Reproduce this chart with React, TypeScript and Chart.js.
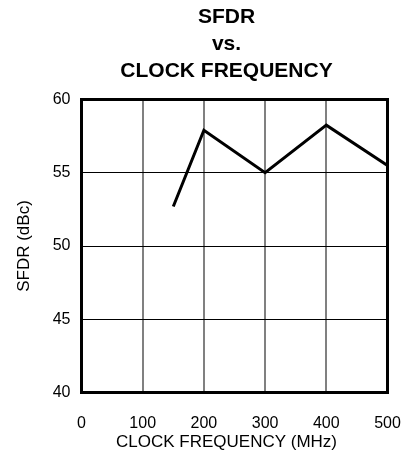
import React, { useEffect, useRef } from "react";
import { Chart, registerables } from "chart.js";

Chart.register(...registerables);

const titleLines = ["SFDR", "vs.", "CLOCK FREQUENCY"];
const xAxisTitle = "CLOCK FREQUENCY (MHz)";
const yAxisTitle = "SFDR (dBc)";
const clockMHz = [150, 200, 300, 400, 500];
const sfdrDbc = [52.7, 57.9, 55.0, 58.25, 55.5];
const xMin = 0, xMax = 500, xStep = 100;
const yMin = 40, yMax = 60, yStep = 5;

const FONT = "Arial, 'Liberation Sans', Helvetica, sans-serif";

const figureText = {
  id: "figureText",
  afterDraw(chart: any) {
    const { ctx, chartArea } = chart;
    const cx = (chartArea.left + chartArea.right) / 2 - 8;
    ctx.save();
    ctx.fillStyle = "#000";
    ctx.textAlign = "center";
    ctx.textBaseline = "middle";
    ctx.font = `bold 21px ${FONT}`;
    titleLines.forEach((t, i) => {
      ctx.fillText(t, cx, chartArea.top - 82 + i * 27);
    });
    ctx.font = `17px ${FONT}`;
    ctx.fillText(xAxisTitle, cx, chartArea.bottom + 50);
    ctx.restore();
  },
  afterDatasetsDraw(chart: any) {
    const { ctx, chartArea } = chart;
    ctx.save();
    ctx.strokeStyle = "#000";
    ctx.lineWidth = 3;
    ctx.strokeRect(
      chartArea.left,
      chartArea.top,
      chartArea.right - chartArea.left,
      chartArea.bottom - chartArea.top
    );
    ctx.restore();
  },
};

export default function App() {
  const ref = useRef<HTMLCanvasElement | null>(null);
  useEffect(() => {
    if (!ref.current) return;
    const chart = new Chart(ref.current, {
      type: "line",
      data: {
        datasets: [
          {
            data: clockMHz.map((x, i) => ({ x, y: sfdrDbc[i] })),
            borderColor: "#000",
            borderWidth: 3,
            pointRadius: 0,
            tension: 0,
            fill: false,
          },
        ],
      },
      options: {
        responsive: false,
        animation: false,
        layout: { padding: { top: 99.5, right: 0, bottom: 0, left: 0 } },
        plugins: {
          legend: { display: false },
          tooltip: { enabled: false },
          title: { display: false },
        },
        scales: {
          x: {
            type: "linear",
            min: xMin,
            max: xMax,
            border: { display: false },
            grid: { color: "#808080", lineWidth: 2, drawTicks: false },
            ticks: {
              stepSize: xStep,
              color: "#000",
              padding: 21,
              font: { family: FONT, size: 16 },
            },
            afterFit(scale: any) {
              scale.height = 66.5;
              scale.paddingRight = 17.5;
              scale.paddingLeft = 0;
            },
          },
          y: {
            type: "linear",
            min: yMin,
            max: yMax,
            border: { display: false },
            grid: { color: "#000", lineWidth: 1, drawTicks: false },
            ticks: {
              stepSize: yStep,
              color: "#000",
              padding: 11,
              font: { family: FONT, size: 16 },
            },
            title: {
              display: true,
              text: yAxisTitle,
              color: "#000",
              font: { family: FONT, size: 17 },
              padding: { top: 14, bottom: 0 },
            },
            afterFit(scale: any) {
              scale.width = 81.5;
              scale.paddingTop = 0;
              scale.paddingBottom = 0;
            },
          },
        },
      },
      plugins: [figureText],
    });
    return () => chart.destroy();
  }, []);
  return (
    <div style={{ position: "fixed", left: 0, top: 0, width: 405, height: 459, background: "#fff" }}>
      <canvas ref={ref} width={405} height={459} style={{ display: "block" }} />
    </div>
  );
}
